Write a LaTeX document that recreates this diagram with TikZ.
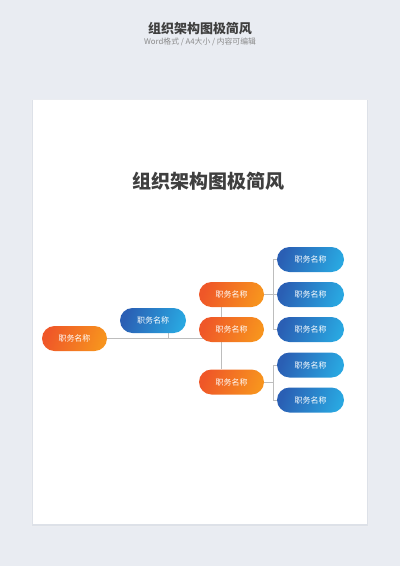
\documentclass[tikz,border=0pt]{standalone}
\usepackage{fontspec}
\setmainfont{Noto Sans CJK SC}
\usetikzlibrary{backgrounds}
\definecolor{bgc}{HTML}{E9ECF2}
\definecolor{shd}{HTML}{DDE1E8}
\definecolor{orD}{HTML}{EF5728}
\definecolor{orL}{HTML}{F7931E}
\definecolor{blD}{HTML}{2A5FB4}
\definecolor{blL}{HTML}{29A6E0}
\definecolor{lnc}{HTML}{BDBDBD}
\definecolor{ttl}{HTML}{3F3F3F}
\definecolor{sub}{HTML}{8A8A8A}
\tikzset{
  pill/.style={rounded corners=12.5pt, minimum height=25pt, minimum width=65pt,
    inner sep=0pt, text=white, font=\fontsize{8}{9}\selectfont},
  orangepill/.style={pill, left color=orD, right color=orL, shading angle=70},
  bluepill/.style={pill, left color=blD, right color=blL, shading angle=70},
  conn/.style={draw=lnc, line width=0.9pt},
}
\begin{document}
\begin{tikzpicture}[x=1pt,y=-1pt]
\useasboundingbox (0,0) rectangle (400,566);
% nodes
\node[font=\bfseries\fontsize{13}{15}\selectfont, text=ttl] (head) at (200,29) {组织架构图极简风};
\node[font=\fontsize{7.8}{9}\selectfont, text=sub] (subhead) at (200,42) {Word格式 / A4大小 / 内容可编辑};
\node[font=\bfseries\fontsize{19}{21}\selectfont, text=ttl] (ptitle) at (208.5,181) {组织架构图极简风};

\node[orangepill] (root) at (74.5,338.5) {职务名称};
\node[bluepill, minimum width=66pt] (mb) at (153,320.5) {职务名称};
\node[orangepill] (o1) at (231.5,294.5) {职务名称};
\node[orangepill] (o2) at (231.5,329.5) {职务名称};
\node[orangepill] (o3) at (231.5,382) {职务名称};
\node[bluepill, minimum width=67pt] (b1) at (310.5,259.5) {职务名称};
\node[bluepill, minimum width=67pt] (b2) at (310.5,294.5) {职务名称};
\node[bluepill, minimum width=67pt] (b3) at (310.5,329.5) {职务名称};
\node[bluepill, minimum width=67pt] (b4) at (310.5,365) {职务名称};
\node[bluepill, minimum width=67pt] (b5) at (310.5,400) {职务名称};

\coordinate (k1) at (273,294.5);
\coordinate (k2) at (273,382);

\begin{pgfonlayer}{background}
  \fill[bgc] (0,0) rectangle (400,566);
  \fill[shd!60] (31,99) rectangle (369,527);
  \fill[shd] (32,100) rectangle (368,526);
  \fill[white] (33,100) rectangle (367,524);
  % connectors
  \draw[conn] (root.east) -- ([xshift=-10.5pt]o2.center |- root.east);
  \draw[conn] ([xshift=-10.5pt]o1.south) -- ([xshift=-10.5pt]o3.north);
  \draw[conn] ([xshift=15pt]mb.south) -- ([xshift=15pt]mb.south |- root.east);
  \draw[conn] (o1.east) -- (k1);
  \draw[conn] (b1.west) -| (k1);
  \draw[conn] (b2.west) -- (k1);
  \draw[conn] (b3.west) -| (k1);
  \draw[conn] (o3.east) -- (k2);
  \draw[conn] (b4.west) -| (k2);
  \draw[conn] (b5.west) -| (k2);
\end{pgfonlayer}
\end{tikzpicture}
\end{document}
